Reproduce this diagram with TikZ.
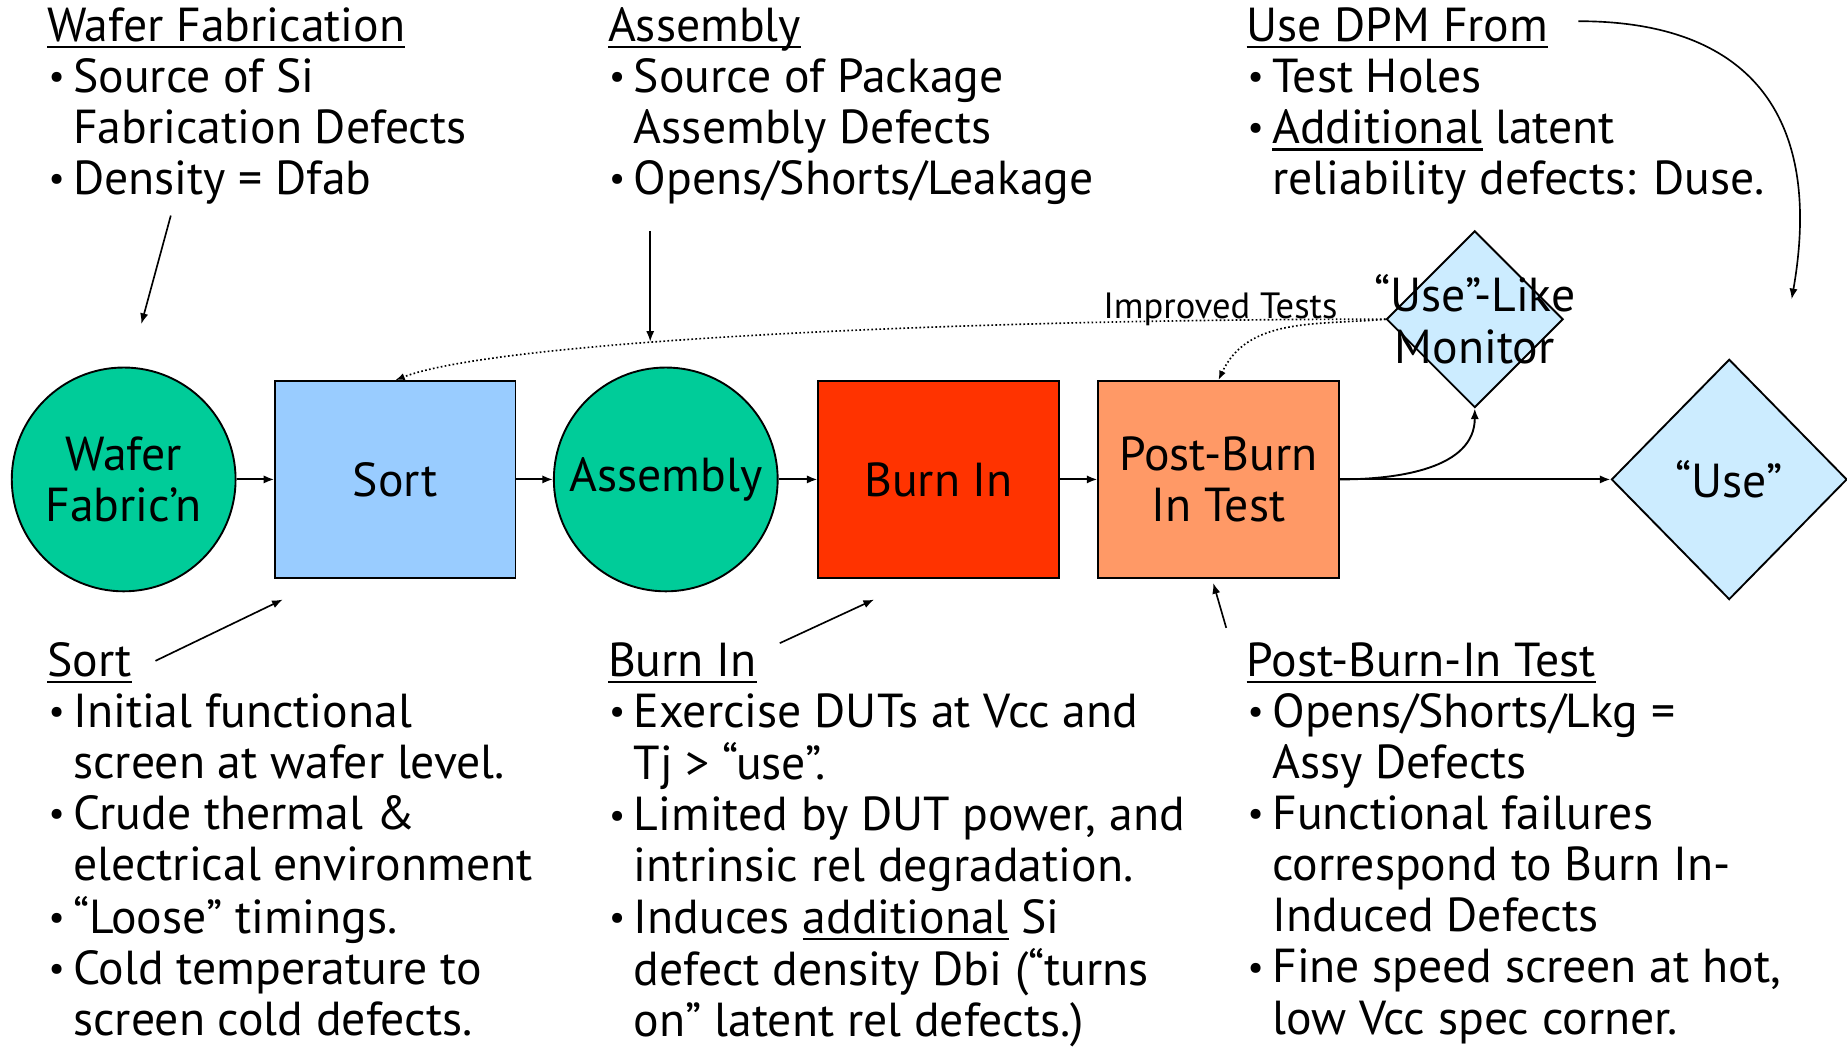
\documentclass[tikz,border=0pt]{standalone}
\usepackage{fontspec}
\setmainfont{PT Sans}
\usetikzlibrary{positioning,arrows.meta,shapes.geometric}

\definecolor{procgreen}{HTML}{00CC99}
\definecolor{sortblue}{HTML}{99CCFF}
\definecolor{burnred}{HTML}{FF3300}
\definecolor{testorange}{HTML}{FF9966}
\definecolor{sinkblue}{HTML}{CCECFF}

\newcommand\bigtxt{\fontsize{40.5}{43.4}\selectfont}
\newcommand\smalltxt{\fontsize{31}{33}\selectfont}
% bullet and hanging indent for the note lines
\newcommand\blt{\makebox[22pt][l]{\hspace{1pt}\raisebox{0.08em}{\scalebox{0.75}{\textbullet}}}}
\newcommand\ind{\hspace{22pt}}
% underline at a fixed depth
\newsavebox\ulbox
\newcommand\ul[1]{\sbox\ulbox{#1}\rlap{\rule[-6pt]{\wd\ulbox}{1.8pt}}\usebox\ulbox}

\begin{document}
\begin{tikzpicture}[x=1pt, y=1pt,
    stage/.style={rectangle, draw, line width=1.6pt, minimum width=204pt, minimum height=167pt, align=center, font=\bigtxt},
    proc/.style={circle, draw, line width=1.6pt, fill=procgreen, minimum size=190pt, inner sep=0pt, align=center, font=\bigtxt},
    sink/.style={diamond, draw, line width=1.6pt, fill=sinkblue, shape aspect=1, inner sep=0pt, font=\bigtxt},
    note/.style={anchor=base west, inner sep=0pt, font=\bigtxt},
    flow/.style={line width=1.6pt, -{Latex[length=9pt,width=7pt]}},
    hint/.style={line width=1.4pt, -{Latex[length=9pt,width=7pt]}},
    fb/.style={dotted, line width=1.4pt, -{Latex[length=8pt,width=6pt]}},
]
\useasboundingbox (0,0) rectangle (1568,-889);

% process chain
\node[proc] (wafer) at (105,-407) {Wafer\\Fabric’n};
\node[stage, fill=sortblue, right=32pt of wafer] (sort) {Sort};
\node[proc, right=31pt of sort] (asm) {Assembly};
\node[stage, fill=burnred, right=33pt of asm] (burn) {Burn In};
\node[stage, fill=testorange, right=32pt of burn] (test) {Post-Burn\\In Test};
\node[sink, minimum width=150pt, minimum height=150pt,
      label={[font=\bigtxt, align=center]center:{“Use”-Like\\Monitor}}] (monitor) at (1252,-271) {};
\node[sink, minimum width=200pt, minimum height=204pt] (use) at (1468,-407) {“Use”};

\draw[flow] (wafer) -- (sort);
\draw[flow] (sort) -- (asm);
\draw[flow] (asm) -- (burn);
\draw[flow] (burn) -- (test);
\draw[flow] (test) -- (use);
\draw[flow] (test.east) to[out=0, in=-90] (monitor.south);

% feedback from the monitor
\draw[fb] (monitor.west) .. controls (800,-271) and (420,-290) .. (sort.north);
\draw[fb] (monitor.west) to[out=185, in=65] (test.north);
\node[font=\smalltxt, anchor=base, inner sep=0pt] (imptag) at (1036,-270) {Improved Tests};

% notes
\node[note] (fabnote) at (40,-35) {\begin{tabular}[t]{@{}l@{}}
\ul{Wafer Fabrication}\\
\blt Source of Si\\
\ind Fabrication Defects\\
\blt Density = Dfab
\end{tabular}};
\node[note] (asmnote) at (516,-35) {\begin{tabular}[t]{@{}l@{}}
\ul{Assembly}\\
\blt Source of Package\\
\ind Assembly Defects\\
\blt Opens/Shorts/Leakage
\end{tabular}};
\node[note] (dpmnote) at (1058,-35) {\begin{tabular}[t]{@{}l@{}}
\ul{Use DPM From}\\
\blt Test Holes\\
\blt \ul{Additional} latent\\
\ind reliability defects: Duse.
\end{tabular}};
\node[note] (sortnote) at (40,-574) {\begin{tabular}[t]{@{}l@{}}
\ul{Sort}\\
\blt Initial functional\\
\ind screen at wafer level.\\
\blt Crude thermal \&\\
\ind electrical environment\\
\blt “Loose” timings.\\
\blt Cold temperature to\\
\ind screen cold defects.
\end{tabular}};
\node[note] (burnnote) at (516,-574) {\begin{tabular}[t]{@{}l@{}}
\ul{Burn In}\\
\blt Exercise DUTs at Vcc and\\
\ind Tj > “use”.\\
\blt Limited by DUT power, and\\
\ind intrinsic rel degradation.\\
\blt Induces \ul{additional} Si\\
\ind defect density Dbi (“turns\\
\ind on” latent rel defects.)
\end{tabular}};
\node[note] (testnote) at (1058,-574) {\begin{tabular}[t]{@{}l@{}}
\ul{Post-Burn-In Test}\\
\blt Opens/Shorts/Lkg =\\
\ind Assy Defects\\
\blt Functional failures\\
\ind correspond to Burn In-\\
\ind Induced Defects\\
\blt Fine speed screen at hot,\\
\ind low Vcc spec corner.
\end{tabular}};

% pointers from the notes
\coordinate (fabfrom) at (145,-183);
\coordinate (fabto) at (120,-275);
\coordinate (asmfrom) at (552,-196);
\coordinate (asmto) at (552,-290);
\coordinate (dpmfrom) at (1340,-18);
\coordinate (dpmto) at (1521,-254);
\coordinate (sortfrom) at (132,-561);
\coordinate (sortto) at (240,-509);
\coordinate (burnfrom) at (662,-546);
\coordinate (burnto) at (742,-509);
\coordinate (testfrom) at (1041,-533);
\coordinate (testto) at (1030,-495);
\draw[hint] (fabfrom) -- (fabto);
\draw[hint] (asmfrom) -- (asmto);
\draw[hint] (dpmfrom) to[out=0, in=80, looseness=1.3] (dpmto);
\draw[hint] (sortfrom) -- (sortto);
\draw[hint] (burnfrom) -- (burnto);
\draw[hint] (testfrom) -- (testto);
\end{tikzpicture}
\end{document}
